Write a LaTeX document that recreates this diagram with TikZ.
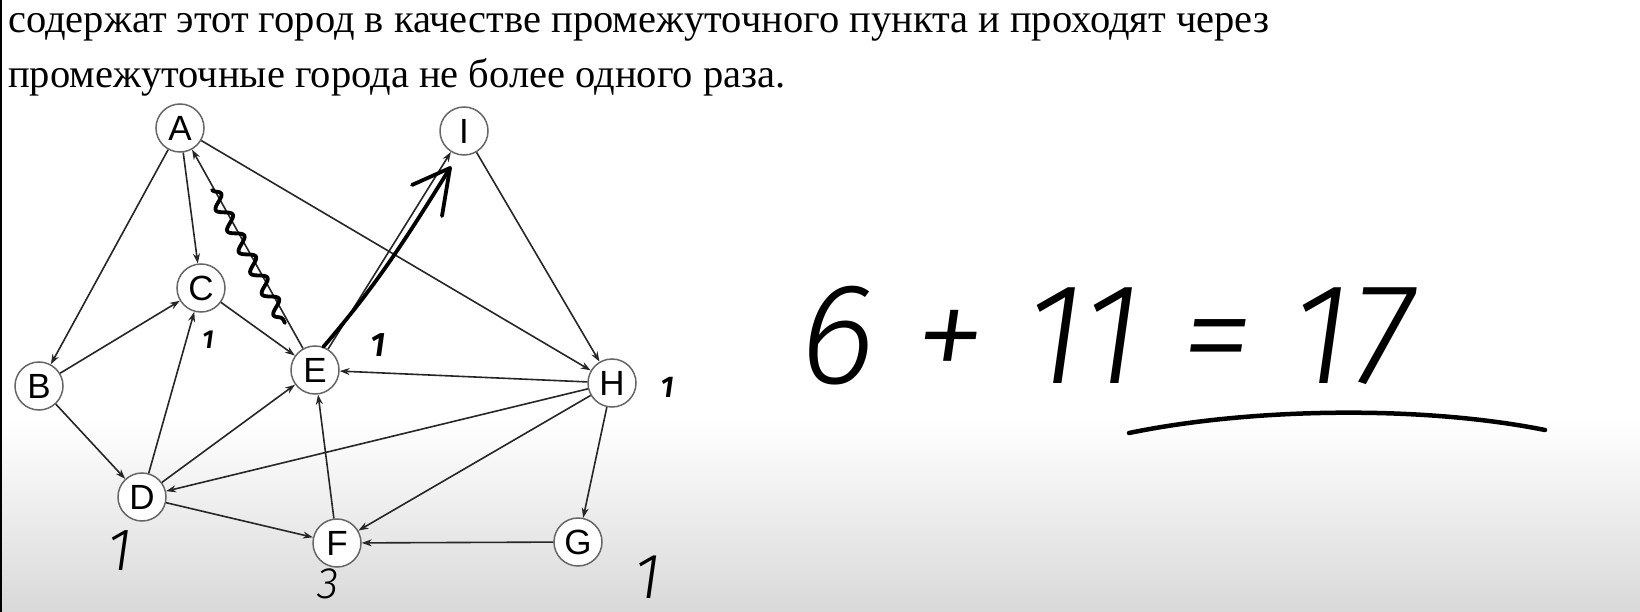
\documentclass[tikz,border=0pt]{standalone}
\usepackage{amsmath}
\usepackage{fontspec}
\setmainfont{Liberation Serif}
\newfontfamily\nodefont{Liberation Sans}
\newfontfamily\handfont[ItalicFont={Fira Sans Light Italic}]{Fira Sans Light}
\newfontfamily\penfont[ItalicFont={Fira Sans SemiBold Italic}]{Fira Sans SemiBold}
\usepackage{tikz}
\usetikzlibrary{arrows.meta,positioning,shapes,decorations.pathmorphing}

\begin{document}
\begin{tikzpicture}[x=1pt,y=-1pt,
	town/.style={circle,draw=black!60,line width=1.5pt,fill=white,minimum size=48pt,inner sep=0pt,font=\nodefont\fontsize{35}{35}\selectfont},
	road/.style={draw=black!85,line width=1.6pt,-{Stealth[length=10pt,width=7pt]}},
	hand/.style={inner sep=0pt,font=\handfont\itshape\fontsize{#1}{#1}\selectfont},
	pen/.style={inner sep=0pt,font=\penfont\itshape\fontsize{#1}{#1}\selectfont},
	ink/.style={line width=4pt,line cap=round,line join=round}]
	\fill[white] (0,0) rectangle (1640,612);
	\shade[top color=white,bottom color=black!15] (0,420) rectangle (1640,612);
	\fill[black] (0,0) rectangle (2,612);
	\useasboundingbox (0,0) rectangle (1640,612);
	\node[anchor=base west,inner sep=0pt,font=\fontsize{40.5}{40.5}\selectfont] (line1) at (8,33) {содержат этот город в качестве промежуточного пункта и проходят через};
	\node[anchor=base west,inner sep=0pt,font=\fontsize{40.5}{40.5}\selectfont] (line2) at (8,88) {промежуточные города не более одного раза.};
	\node[town] (A) at (180,128) {A};
	\node[town] (I) at (464,131) {I};
	\node[town] (C) at (201,288) {C};
	\node[town] (B) at (39,386) {B};
	\node[town] (E) at (315,370) {E};
	\node[town] (H) at (612,383) {H};
	\node[town] (D) at (142,497) {D};
	\node[town] (F) at (337,543) {F};
	\node[town] (G) at (578,542) {G};
	\draw[road] (A) -- (B);
	\draw[road] (A) -- (C);
	\draw[road] (E) -- (A);
	\draw[road] (A) -- (H);
	\draw[road] (I) -- (H);
	\draw[road] (E) -- (I);
	\draw[road] (B) -- (C);
	\draw[road] (B) -- (D);
	\draw[road] (C) -- (E);
	\draw[road] (D) -- (C);
	\draw[road] (D) -- (E);
	\draw[road] (D) -- (F);
	\draw[road] (H) -- (E);
	\draw[road] (H) -- (D);
	\draw[road] (H) -- (F);
	\draw[road] (H) -- (G);
	\draw[road] (F) -- (E);
	\draw[road] (G) -- (F);
	% pen marks
	\coordinate (w1) at (212,190);
	\coordinate (w2) at (285,323);
	\draw[ink,line width=3.8pt,decorate,decoration={snake,amplitude=6.5pt,segment length=24pt}] (w1) -- (w2);
	\coordinate (tip) at (450,168);
	\coordinate (arm1) at (412,185);
	\coordinate (arm2) at (442,216);
	\draw[ink,line width=3.8pt] (E.70) .. controls (372,290) and (398,252) .. (tip);
	\draw[ink,line width=3.8pt] (arm1) -- (tip) -- (arm2);
	\node[pen=26] (cnum) at (208,340) {1};
	\node[pen=34] (enum) at (378,345) {1};
	\node[pen=30] (hnum) at (667,387) {1};
	\node[hand=60] (dnum) at (120,551) {1};
	\node[hand=44] (fnum) at (328,584) {3};
	\node[hand=64] (gnum) at (648,577) {1};
	\node[hand=144,anchor=base west] (sum) at (800,383) {6 + 11 = 17};
	\coordinate (u1) at (1129,433);
	\coordinate (u2) at (1545,430);
	\draw[ink,line width=4.5pt] (u1) .. controls (1250,408) and (1420,405) .. (u2);
\end{tikzpicture}
\end{document}
